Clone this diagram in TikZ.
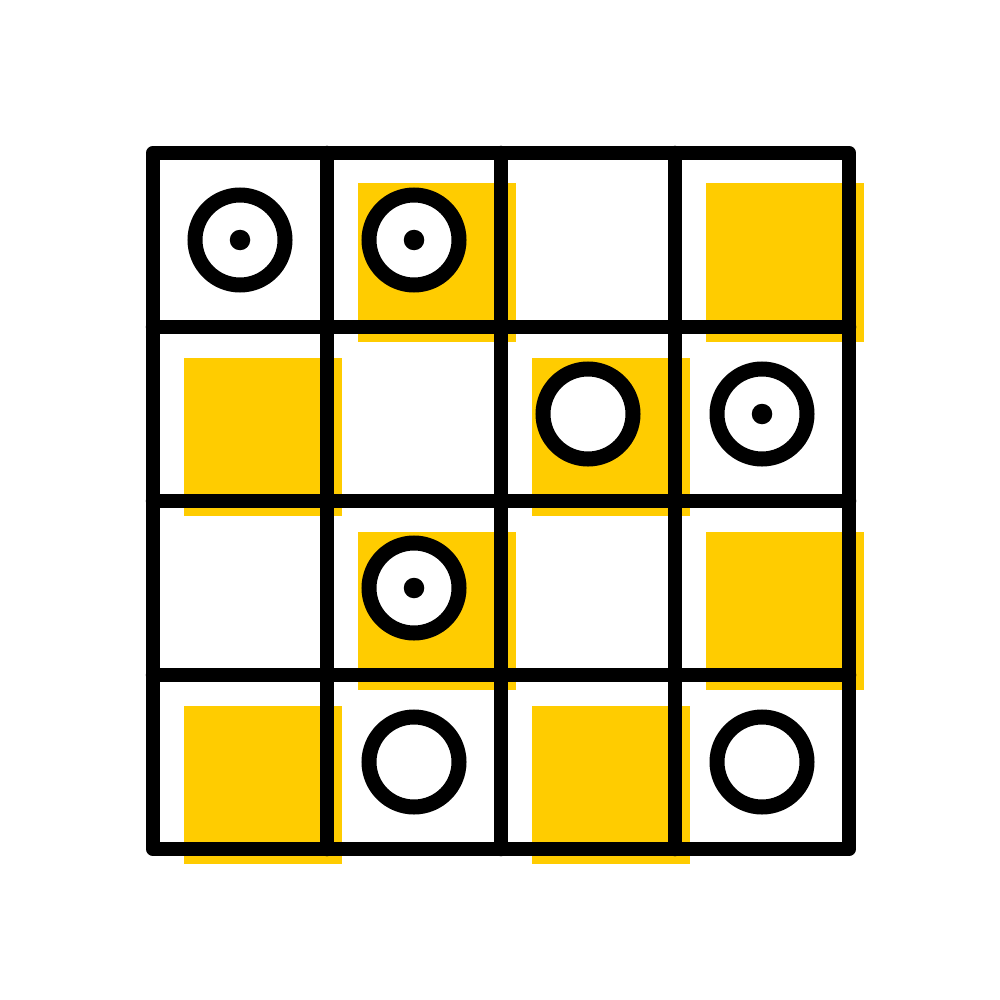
\documentclass[tikz,border=0pt]{standalone}
\definecolor{gold}{HTML}{FFCC00}
\begin{document}
\begin{tikzpicture}[x=1pt,y=-1pt,
  yellowsq/.style={fill=gold},
  gridline/.style={draw=black,line width=14.5pt,line cap=round,line join=round},
  ring/.style={circle,draw=black,fill=white,line width=15pt,minimum size=90pt,inner sep=0pt},
  dot/.style={circle,fill=black,minimum size=20.5pt,inner sep=0pt}]
\fill[white] (0,0) rectangle (1000,1000);
\useasboundingbox (0,0) rectangle (1000,1000);
% yellow squares (row, col)
\foreach \r/\c in {0/1,0/3,1/0,1/2,2/1,2/3,3/0,3/2}{
  \fill[yellowsq] ({153+174*\c+30.5},{153+174*\r+30.5}) rectangle ++(158.5,158.5);
}
% grid
\draw[gridline] (153,153) rectangle (849,849);
\foreach \k in {1,2,3}{
  \draw[gridline] ({153+174*\k},153) -- ({153+174*\k},849);
  \draw[gridline] (153,{153+174*\k}) -- (849,{153+174*\k});
}
% rings
\foreach \r/\c/\n in {0/0/a,0/1/b,1/2/c,1/3/d,2/1/e,3/1/f,3/3/g}{
  \node[ring] (r\n) at ({240+174*\c},{240+174*\r}) {};
}
\foreach \n in {a,b,d,e}{
  \node[dot] (d\n) at (r\n.center) {};
}
\end{tikzpicture}
\end{document}
